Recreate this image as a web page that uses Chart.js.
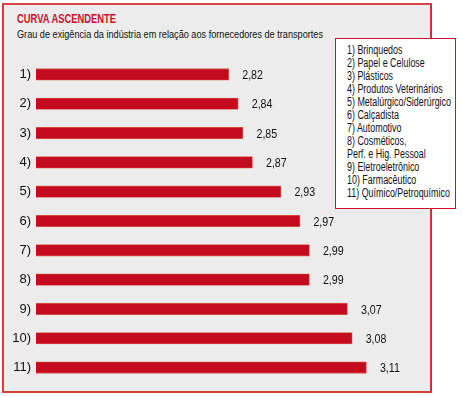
<!DOCTYPE html>
<html>
<head>
<meta charset="utf-8">
<script src="https://cdn.jsdelivr.net/npm/chart.js@4"></script>
<style>
  body { margin: 0; width: 462px; height: 397px; background: #fff; position: relative; overflow: hidden;
    font-family: 'Liberation Sans', Arial, sans-serif; }
  .frame { position: absolute; left: 2px; top: 3px; width: 426px; height: 386px;
    background: #ebeceb; border: 2px solid #d6403c; border-top-color: #d8404a; border-right-color: #d42a3a; }
  .title { position: absolute; left: 17px; top: 12px; font-size: 12px; font-weight: bold; color: #c8102e; white-space: nowrap; }
  .subtitle { position: absolute; left: 17px; top: 28px; font-size: 11.5px; color: #111; white-space: nowrap; }
  .legend { position: absolute; left: 335px; top: 38px; background: #fff;
    border: 1.5px solid #d0102a; padding: 5px 0 0 11px; box-sizing: border-box; width: 121px; height: 171px;
    font-size: 12px; line-height: 13px; color: #111; white-space: nowrap; }
  .legend .inner { display: inline-block; }
  #wrap { position: absolute; left: 4px; top: 47px; width: 426px; height: 348px; }
</style>
</head>
<body>
<div class="frame"></div>
<div class="title" id="title">CURVA ASCENDENTE</div>
<div class="subtitle" id="subtitle">Grau de exigência da indústria em relação aos fornecedores de transportes</div>
<div id="wrap"><canvas id="chart"></canvas></div>
<div class="legend"><div class="inner" id="legend"></div></div>
<script>
const categories = ['1)', '2)', '3)', '4)', '5)', '6)', '7)', '8)', '9)', '10)', '11)'];
const values = [2.82, 2.84, 2.85, 2.87, 2.93, 2.97, 2.99, 2.99, 3.07, 3.08, 3.11];
const legendLines = [
  '1) Brinquedos',
  '2) Papel e Celulose',
  '3) Plásticos',
  '4) Produtos Veterinários',
  '5) Metalúrgico/Siderúrgico',
  '6) Calçadista',
  '7) Automotivo',
  '8) Cosméticos,',
  'Perf. e Hig. Pessoal',
  '9) Eletroeletrônico',
  '10) Farmacêutico',
  '11) Químico/Petroquímico',
];

const legendEl = document.getElementById('legend');
legendLines.forEach(t => {
  const d = document.createElement('div');
  d.textContent = t;
  legendEl.appendChild(d);
});

// the original uses a condensed face, squeeze ours to the same widths
function fitWidth(el, w) {
  const r = el.getBoundingClientRect().width;
  el.style.transformOrigin = '0 0';
  el.style.transform = `scaleX(${w / r})`;
}
fitWidth(document.getElementById('title'), 99);
fitWidth(document.getElementById('subtitle'), 306);
fitWidth(legendEl, 104);

const fontFamily = "'Liberation Sans', Arial, sans-serif";

const valueLabels = {
  id: 'valueLabels',
  afterDatasetsDraw(chart) {
    const ctx = chart.ctx;
    const meta = chart.getDatasetMeta(0);
    ctx.save();
    ctx.font = `13px ${fontFamily}`;
    ctx.fillStyle = '#111';
    ctx.textBaseline = 'middle';
    ctx.textAlign = 'left';
    meta.data.forEach((bar, i) => {
      ctx.save();
      ctx.translate(bar.x + 13.5, bar.y + 1);
      ctx.scale(0.82, 1);
      ctx.fillText(values[i].toFixed(2).replace('.', ','), 0, 0);
      ctx.restore();
    });
    ctx.restore();
  },
};

new Chart(document.getElementById('chart'), {
  type: 'bar',
  data: {
    labels: categories,
    datasets: [{
      data: values,
      backgroundColor: '#c40a1f',
      borderColor: '#dc5a48',
      borderWidth: 0.8,
      barThickness: 11.5,
    }],
  },
  options: {
    indexAxis: 'y',
    responsive: true,
    maintainAspectRatio: false,
    animation: false,
    layout: { padding: 0 },
    scales: {
      x: {
        display: false,
        min: 2.414,
        max: 3.244,
      },
      y: {
        afterFit(axis) { axis.width = 32; },
        grid: { display: false, drawTicks: false },
        border: { display: false },
        ticks: {
          color: '#111',
          padding: 5,
          font: { family: fontFamily, size: 13 },
        },
      },
    },
    plugins: {
      legend: { display: false },
      tooltip: { enabled: false },
    },
  },
  plugins: [valueLabels],
});
</script>
</body>
</html>
